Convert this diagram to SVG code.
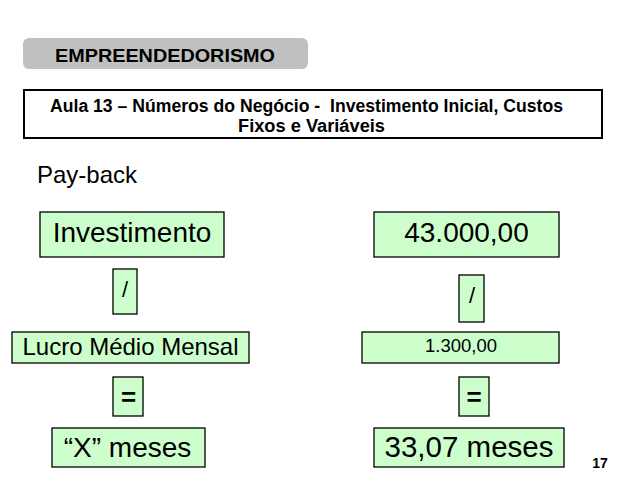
<svg xmlns="http://www.w3.org/2000/svg" width="624" height="482" viewBox="0 0 624 482">
<style>
  text { font-family: "Liberation Sans", Arial, sans-serif; fill: #000; }
  .box { fill: #ccffcc; stroke: #000; stroke-width: 1.3; }
  .c { text-anchor: middle; }
  .b { font-weight: bold; }
</style>
<rect width="624" height="482" fill="#fff"/>
<g id="header">
  <rect x="23" y="38" width="285" height="31" rx="6" ry="6" fill="#c0c0c0"/>
  <text x="55" y="62" font-size="19" class="b" textLength="220" lengthAdjust="spacingAndGlyphs">EMPREENDEDORISMO</text>
</g>
<g id="title">
  <rect x="24" y="90" width="578" height="48" fill="#fff" stroke="#000" stroke-width="2"/>
  <text x="306.5" y="111.5" font-size="18" class="b c" textLength="513" lengthAdjust="spacingAndGlyphs" xml:space="preserve">Aula 13 – Números do Negócio -  Investimento Inicial, Custos</text>
  <text x="311.5" y="131.5" font-size="18" class="b c" textLength="147" lengthAdjust="spacingAndGlyphs">Fixos e Variáveis</text>
</g>
<g id="payback">
  <text x="37" y="183" font-size="24">Pay-back</text>
</g>
<g id="investimento">
  <rect class="box" x="40" y="212" width="184" height="45"/>
  <text x="132" y="242" font-size="28" class="c">Investimento</text>
</g>
<g id="div-left">
  <rect class="box" x="113" y="269" width="24" height="45"/>
  <text x="125" y="297" font-size="22" class="c">/</text>
</g>
<g id="lucro">
  <rect class="box" x="12" y="332" width="237" height="31"/>
  <text x="130.5" y="355" font-size="24" class="c">Lucro Médio Mensal</text>
</g>
<g id="eq-left">
  <rect class="box" x="113" y="377" width="30" height="39"/>
  <text x="128.5" y="406" font-size="26" class="c b">=</text>
</g>
<g id="x-meses">
  <rect class="box" x="52" y="428" width="153" height="39"/>
  <text x="127.5" y="457" font-size="28" class="c">“X” meses</text>
</g>
<g id="valor-investimento">
  <rect class="box" x="374" y="212" width="185" height="45"/>
  <text x="466.5" y="242" font-size="28" class="c">43.000,00</text>
</g>
<g id="div-right">
  <rect class="box" x="459" y="275" width="25" height="47"/>
  <text x="472" y="303" font-size="22" class="c">/</text>
</g>
<g id="valor-lucro">
  <rect class="box" x="362" y="332" width="197" height="31"/>
  <text x="461" y="352" font-size="18.5" class="c">1.300,00</text>
</g>
<g id="eq-right">
  <rect class="box" x="459" y="377" width="30" height="39"/>
  <text x="474" y="406" font-size="26" class="c b">=</text>
</g>
<g id="resultado">
  <rect class="box" x="374" y="428" width="190" height="39"/>
  <text x="469" y="457" font-size="29.5" class="c">33,07 meses</text>
</g>
<g id="page-number">
  <text x="600" y="468" font-size="14" class="c b">17</text>
</g>
<g id="connectors"></g>
</svg>
